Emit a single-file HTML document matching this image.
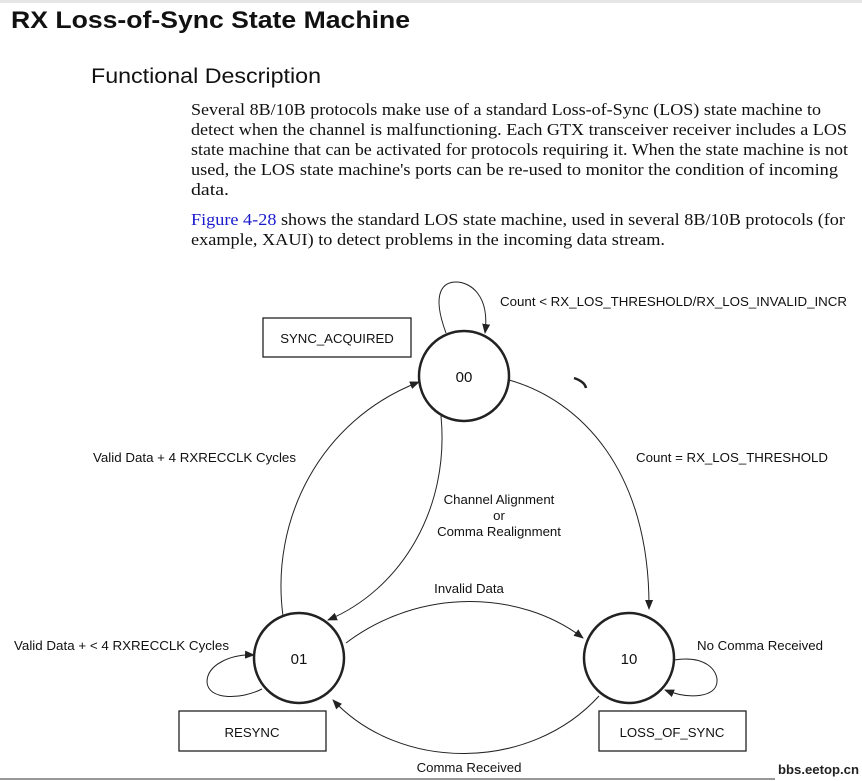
<!DOCTYPE html>
<html><head><meta charset="utf-8"><style>
html,body{margin:0;padding:0;background:#fff;}
svg{display:block;}
.s{font-family:"Liberation Serif",serif;font-size:17px;fill:#111;}
.d{font-family:"Liberation Sans",sans-serif;font-size:13.2px;fill:#111;}
</style></head><body>
<svg width="862" height="781" viewBox="0 0 862 781" xmlns="http://www.w3.org/2000/svg">
<defs><marker id="a" markerWidth="10" markerHeight="8" refX="9" refY="4" orient="auto" markerUnits="userSpaceOnUse"><path d="M0,0 L10,4 L0,8 z" fill="#222"/></marker></defs>
<rect x="0" y="0" width="862" height="3" fill="#e6e6e6"/>
<text x="11" y="28" font-family="Liberation Sans,sans-serif" font-size="24" font-weight="bold" fill="#111" textLength="399" lengthAdjust="spacingAndGlyphs">RX Loss-of-Sync State Machine</text>
<text x="91" y="83" font-family="Liberation Sans,sans-serif" font-size="21" fill="#111" textLength="230" lengthAdjust="spacingAndGlyphs">Functional Description</text>
<text class="s" x="191" y="115" textLength="630" lengthAdjust="spacingAndGlyphs">Several 8B/10B protocols make use of a standard Loss-of-Sync (LOS) state machine to</text>
<text class="s" x="191" y="135" textLength="656" lengthAdjust="spacingAndGlyphs">detect when the channel is malfunctioning. Each GTX transceiver receiver includes a LOS</text>
<text class="s" x="191" y="155" textLength="657" lengthAdjust="spacingAndGlyphs">state machine that can be activated for protocols requiring it. When the state machine is not</text>
<text class="s" x="191" y="175" textLength="647" lengthAdjust="spacingAndGlyphs">used, the LOS state machine's ports can be re-used to monitor the condition of incoming</text>
<text class="s" x="191" y="195" textLength="38" lengthAdjust="spacingAndGlyphs">data.</text>
<text class="s" x="191" y="225" textLength="654" lengthAdjust="spacingAndGlyphs"><tspan fill="#1a1acc">Figure 4-28</tspan> shows the standard LOS state machine, used in several 8B/10B protocols (for</text>
<text class="s" x="191" y="245" textLength="474" lengthAdjust="spacingAndGlyphs">example, XAUI) to detect problems in the incoming data stream.</text>

<g fill="none" stroke="#222" stroke-width="1">
<path d="M446,333 C430,290 445,282 456,282 C470,282 490,295 485,333" marker-end="url(#a)"/>
<path d="M509,380 C580,400 650,470 649,609" marker-end="url(#a)"/>
<path d="M283,616 C270,520 320,420 419,382" marker-end="url(#a)"/>
<path d="M441,416 C450,510 400,590 328,620" marker-end="url(#a)"/>
<path d="M346,643 C420,587 520,590 583,638" marker-end="url(#a)"/>
<path d="M599,696 C530,772 400,772 333,700" marker-end="url(#a)"/>
<path d="M262,689 C240,700 208,700 207,682 C207,665 230,654 254,655" marker-end="url(#a)"/>
<path d="M674,660 C705,655 718,670 717,682 C716,697 690,700 665,690" marker-end="url(#a)"/>
<path d="M574,378 C580,380 585,383 586,388" stroke-width="2.5"/>
</g>
<g fill="#fff" stroke="#222" stroke-width="2.5">
<circle cx="464" cy="376" r="45"/>
<circle cx="299" cy="658" r="45"/>
<circle cx="629" cy="658" r="45"/>
</g>
<g fill="none" stroke="#222" stroke-width="1.3">
<rect x="263" y="318" width="148" height="39"/>
<rect x="179" y="711" width="147" height="40"/>
<rect x="599" y="711" width="147" height="40"/>
</g>
<g font-family="Liberation Sans,sans-serif" font-size="15" fill="#111" text-anchor="middle">
<text x="464" y="382">00</text><text x="299" y="664">01</text><text x="629" y="664">10</text>
</g>
<g class="d">
<text x="337" y="343" text-anchor="middle">SYNC_ACQUIRED</text>
<text x="252" y="737" text-anchor="middle">RESYNC</text>
<text x="672" y="737" text-anchor="middle">LOSS_OF_SYNC</text>
<text x="500" y="306" textLength="347" lengthAdjust="spacingAndGlyphs">Count &lt; RX_LOS_THRESHOLD/RX_LOS_INVALID_INCR</text>
<text x="636" y="462" textLength="192" lengthAdjust="spacingAndGlyphs">Count = RX_LOS_THRESHOLD</text>
<text x="93" y="462" textLength="203" lengthAdjust="spacingAndGlyphs">Valid Data + 4 RXRECCLK Cycles</text>
<text x="499" y="504" text-anchor="middle">Channel Alignment</text>
<text x="499" y="520" text-anchor="middle">or</text>
<text x="499" y="536" text-anchor="middle">Comma Realignment</text>
<text x="469" y="593" text-anchor="middle">Invalid Data</text>
<text x="14" y="650" textLength="215" lengthAdjust="spacingAndGlyphs">Valid Data + &lt; 4 RXRECCLK Cycles</text>
<text x="697" y="650" textLength="126" lengthAdjust="spacingAndGlyphs">No Comma Received</text>
<text x="469" y="772" text-anchor="middle">Comma Received</text>
</g>
<rect x="0" y="778" width="775" height="2" fill="#999"/>
<text x="778" y="774" font-family="Liberation Sans,sans-serif" font-size="13" font-weight="bold" fill="#222" textLength="81" lengthAdjust="spacingAndGlyphs">bbs.eetop.cn</text>
</svg>
</body></html>
